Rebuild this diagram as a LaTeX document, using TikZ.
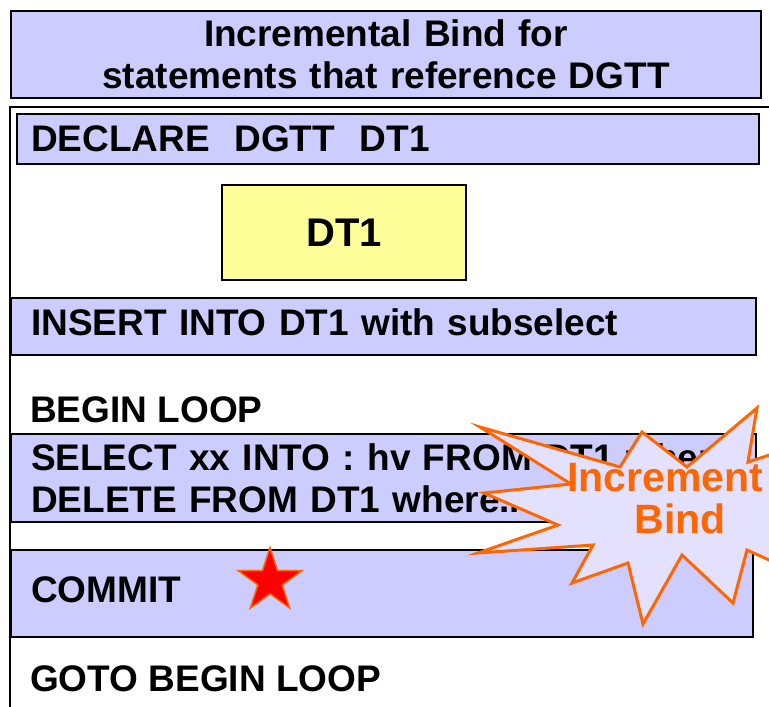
\documentclass[tikz,border=0pt]{standalone}
\usepackage{fontspec}
\setmainfont{Liberation Sans}
\usepackage{tikz}
\usetikzlibrary{positioning,shapes.geometric}

\definecolor{boxblue}{HTML}{CCCCFF}
\definecolor{boxyellow}{HTML}{FFFF99}
\definecolor{burstfill}{HTML}{E4E1FF}
\definecolor{burstorange}{HTML}{FF6600}

\newcommand{\stmtfont}{\fontsize{37}{42}\selectfont\bfseries}
\newcommand{\burstfont}{\fontsize{41}{41}\selectfont\bfseries}

\tikzset{
    stmtbox/.style={draw=black, line width=2pt, fill=boxblue, anchor=north west,
        inner xsep=20pt, inner ysep=0pt, align=left, font=\stmtfont},
    titlebox/.style={stmtbox, align=center},
    plainline/.style={anchor=west, inner sep=0pt, font=\stmtfont},
    burstline/.style={inner sep=0pt, text=burstorange, font=\burstfont},
    burst/.style={draw=burstorange, fill=burstfill, line width=3pt, line join=miter},
}

\begin{document}
\begin{tikzpicture}[x=1pt,y=-1pt]
    \useasboundingbox (0,0) rectangle (769,707);
    \clip (0,0) rectangle (769,707);

    % 
    \node[titlebox, text width=710pt, minimum height=87pt] (title) at (10,10)
        {Incremental Bind for\\statements that reference DGTT};

    % 
    \draw[line width=2pt] (10,720) -- (10,107) -- (780,107);

    % 
    \node[stmtbox, inner xsep=14pt, text width=714pt, minimum height=50pt] (declare) at (16,113)
        {DECLARE\ \ DGTT\ \ DT1};
    \node[draw=black, line width=2pt, fill=boxyellow, anchor=north west,
        minimum width=244pt, minimum height=95pt, font=\fontsize{40}{40}\selectfont\bfseries]
        (dtone) at (221,184) {DT1};
    \node[stmtbox, text width=705pt, minimum height=57pt] (insert) at (10,297)
        {INSERT INTO DT1 with subselect\vphantom{g}};

    % 
    \node[plainline] (beginloop) at (30,410) {BEGIN LOOP};
    \node[stmtbox, text width=705pt, minimum height=88pt] (selectdelete) at (10,433)
        {SELECT xx INTO : hv FROM DT1 where\\DELETE FROM DT1 where..};
    \node[stmtbox, text width=702pt, minimum height=87pt] (commit) at (10,549)
        {COMMIT\vphantom{g}};
    \node[plainline] (gotoloop) at (30,679) {GOTO BEGIN LOOP};

    % 
    \node[star, star points=5, star point ratio=2.618, minimum size=67pt, inner sep=0pt,
        fill=red, draw=burstorange, line width=1.5pt] (commitstar) at (270,581) {};

    % 
    \draw[burst] (480,427) -- (620,467) -- (642,432) -- (687,467) -- (757,408)
        -- (748,462) -- (800,445) -- (790,505) -- (800,574) -- (747,550)
        -- (733,603) -- (682,555) -- (643,624) -- (628,563) -- (572,583)
        -- (593,545) -- (478,553) -- (558,525) -- (484,493) -- (571,484) -- cycle;
    \node[burstline, anchor=west] (incr) at (567,478) {Increment};
    \node[burstline] (bind) at (680,519) {Bind};
\end{tikzpicture}
\end{document}
